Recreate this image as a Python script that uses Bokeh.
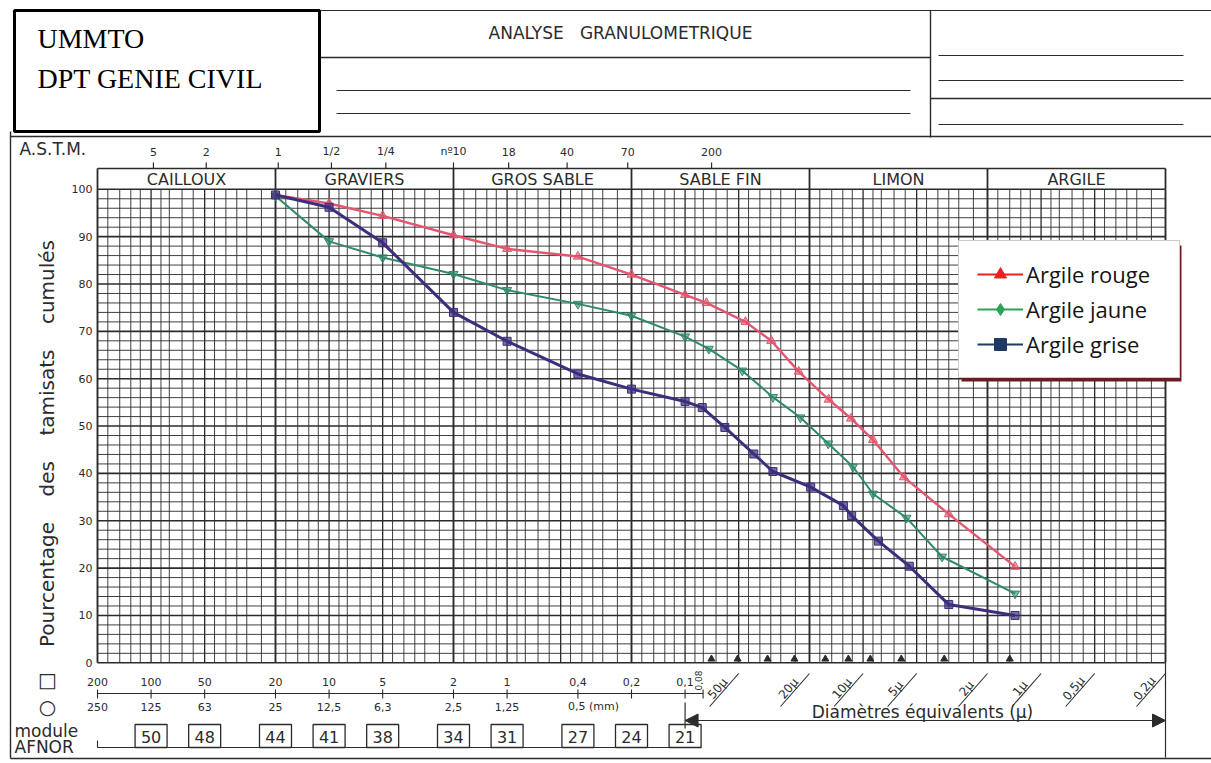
import math
from bokeh.plotting import figure
from bokeh.models import Range1d, Legend, LegendItem, Arrow, NormalHead
from bokeh.core.properties import value
from bokeh.embed import file_html
from bokeh.resources import INLINE

# ---------------- data (diameter in mm, cumulative passing in %) ----------------
rouge_d = [20, 10, 5, 2, 1, 0.4, 0.2, 0.1, 0.0758, 0.0458, 0.0328, 0.0230, 0.0156,
           0.0117, 0.0088, 0.0059, 0.0033, 0.0014]
rouge_p = [98.8, 97.0, 94.4, 90.3, 87.4, 85.8, 82.0, 77.7, 76.0, 72.0, 68.0, 61.5, 55.6,
           51.6, 47.1, 39.2, 31.4, 20.3]

jaune_d = [20, 10, 5, 2, 1, 0.4, 0.2, 0.1, 0.0735, 0.0477, 0.0321, 0.0225, 0.0157,
           0.0114, 0.0088, 0.0057, 0.0036, 0.0014]
jaune_p = [98.6, 89.0, 85.6, 82.1, 78.7, 75.8, 73.3, 68.9, 66.3, 61.7, 56.1, 51.8, 46.3,
           41.4, 35.7, 30.6, 22.4, 14.6]

grise_d = [20, 10, 5, 2, 1, 0.4, 0.2, 0.1, 0.0801, 0.0598, 0.0411, 0.0321, 0.0197,
           0.0129, 0.0116, 0.0082, 0.0055, 0.0033, 0.0014]
grise_p = [98.8, 96.2, 88.7, 74.0, 67.9, 61.0, 57.8, 55.2, 53.9, 49.7, 44.1, 40.4, 37.1,
           33.2, 31.1, 25.7, 20.4, 12.3, 10.0]

series_names = ["Argile rouge", "Argile jaune", "Argile grise"]

y_ticks = [0, 10, 20, 30, 40, 50, 60, 70, 80, 90, 100]
sq_d = [200, 100, 50, 20, 10, 5, 2, 1, 0.4, 0.2, 0.1]
sq_labels = ["200", "100", "50", "20", "10", "5", "2", "1", "0,4", "0,2", "0,1"]
rd_d = [200, 100, 50, 20, 10, 5, 2, 1]
rd_labels = ["250", "125", "63", "25", "12,5", "6,3", "2,5", "1,25"]
afnor_d = [100, 50, 20, 10, 5, 2, 1, 0.4, 0.2, 0.1]
afnor_labels = ["50", "48", "44", "41", "38", "34", "31", "27", "24", "21"]
astm_d = [97, 49, 19.3, 9.7, 4.8, 2.0, 0.98, 0.46, 0.21, 0.071]
astm_labels = ["5", "2", "1", "1/2", "1/4", "nº10", "18", "40", "70", "200"]
class_labels = ["CAILLOUX", "GRAVIERS", "GROS SABLE", "SABLE FIN", "LIMON", "ARGILE"]
class_bounds = [200, 20, 2, 0.2, 0.02, 0.002, 0.0002]
micron_d = [0.05, 0.02, 0.01, 0.005, 0.002, 0.001, 0.0005, 0.0002]
micron_labels = ["50µ", "20µ", "10µ", "5µ", "2µ", "1µ", "0,5µ", "0,2µ"]
sedim_d = [0.0711, 0.0507, 0.0344, 0.0243, 0.0163, 0.0121, 0.0091, 0.0061, 0.0035, 0.0015]
grid_mant = [1, 1.15, 1.3, 1.5, 1.75, 2, 2.4, 2.9, 3.3, 3.8, 4.4, 5, 5.8, 6.7, 7.9, 8.8]

# ---------------- layout (page pixels) ----------------
W, H, OFF = 1211, 763, 0
PX0, PXD = 97.0, 178.0       # page x of 200 mm, pixels per decade
PY0, PYU = 662.3, 4.735      # page y of 0 %, pixels per %


def X(px):
    return 200.0 / 10 ** ((px - PX0) / PXD)


def Y(py):
    return (PY0 - py) / PYU


def PXof(d):
    return PX0 + PXD * math.log10(200.0 / d)


def XD(d, dx):
    return X(PXof(d) + dx)


DMAX, DMIN = 200.0, 0.0002
INK = "#2b2b2b"
FONT = value("DejaVu Sans")
NB = "\u00a0" * 4

p = figure(width=W, height=H, x_axis_type="log",
           x_range=Range1d(X(OFF), X(OFF + W)), y_range=Range1d(Y(OFF + H), Y(OFF)),
           x_axis_location=None, y_axis_location=None, toolbar_location=None,
           output_backend="svg", min_border=0, outline_line_color=None,
           background_fill_color="white", border_fill_color="white")
p.xgrid.visible = False
p.ygrid.visible = False

# ---------------- grid ----------------
vx, vw = [], []
for e in range(-4, 3):
    for m in grid_mant:
        v = m * 10 ** e
        if DMIN * 0.999 <= v <= DMAX * 1.001:
            vx.append(v)
            vw.append(1.9 if m == 2 else (1.3 if m in (1, 5) else 0.9))
p.segment(x0=vx, y0=[0] * len(vx), x1=vx, y1=[100] * len(vx), line_color=INK, line_width=vw)
hy = list(range(0, 101, 2))
hw = [1.6 if v % 10 == 0 else 0.9 for v in hy]
p.segment(x0=[DMAX] * len(hy), y0=hy, x1=[DMIN] * len(hy), y1=hy, line_color=INK, line_width=hw)

# header band with soil classes
p.segment(x0=class_bounds, y0=[100] * 7, x1=class_bounds, y1=[Y(168)] * 7, line_color=INK, line_width=1.8)
p.segment(x0=[DMAX], y0=[Y(168)], x1=[DMIN], y1=[Y(168)], line_color=INK, line_width=1.6)
mids = [math.sqrt(class_bounds[i] * class_bounds[i + 1]) for i in range(6)]
p.text(x=mids, y=[Y(179)] * 6, text=class_labels, text_font=FONT, text_font_size="16px",
       text_align="center", text_baseline="middle", text_color=INK)

# ASTM row
p.text(x=[X(19)], y=[Y(148)], text=["A.S.T.M."], text_font=FONT, text_font_size="17px",
       text_align="left", text_baseline="middle", text_color=INK)
p.text(x=astm_d, y=[Y(151)] * len(astm_d), text=astm_labels, text_font=FONT, text_font_size="11px",
       text_align="center", text_baseline="middle", text_color=INK)
p.segment(x0=astm_d, y0=[Y(162)] * len(astm_d), x1=astm_d, y1=[Y(168)] * len(astm_d),
          line_color=INK, line_width=1.2)

# y labels and title
p.text(x=[X(92)] * len(y_ticks), y=y_ticks, text=[str(v) for v in y_ticks], text_font=FONT,
       text_font_size="11px", text_align="right", text_baseline="middle", text_color=INK)
p.text(x=[X(46)], y=[Y(443)], text=["Pourcentage" + NB + "des" + NB + "tamisats" + NB + "cumulés"],
       angle=math.pi / 2, text_font=FONT, text_font_size="20px", text_align="center",
       text_baseline="middle", text_color=INK)

# sedimentation marks on the 0 line
p.scatter(x=sedim_d, y=[0.8] * len(sedim_d), marker="triangle", size=7, fill_color=INK, line_color=INK)

# ---------------- bottom scales ----------------
p.text(x=[X(47), X(47)], y=[Y(679), Y(706)], text=["□", "○"], text_font=FONT, text_font_size="20px",
       text_align="center", text_baseline="middle", text_color=INK)
p.text(x=sq_d, y=[Y(681)] * len(sq_d), text=sq_labels, text_font=FONT, text_font_size="11px",
       text_align="center", text_baseline="middle", text_color=INK)
p.text(x=[XD(0.1, 13)], y=[Y(680)], text=["0,08"], angle=math.pi / 2, text_font=FONT,
       text_font_size="9px", text_align="center", text_baseline="middle", text_color=INK)
p.segment(x0=[DMAX], y0=[Y(693)], x1=[XD(0.1, 18)], y1=[Y(693)], line_color=INK, line_width=1.1)
p.segment(x0=sq_d + [XD(0.1, 18)], y0=[Y(689)] * 12, x1=sq_d + [XD(0.1, 18)], y1=[Y(698)] * 12,
          line_color=INK, line_width=1.1)
p.text(x=rd_d, y=[Y(706)] * len(rd_d), text=rd_labels, text_font=FONT, text_font_size="11px",
       text_align="center", text_baseline="middle", text_color=INK)
p.text(x=[XD(0.4, -10)], y=[Y(706)], text=["0,5 (mm)"], text_font=FONT, text_font_size="11px",
       text_align="left", text_baseline="middle", text_color=INK)

# AFNOR modules
p.text(x=[X(14), X(14)], y=[Y(730), Y(746)], text=["module", "AFNOR"], text_font=FONT,
       text_font_size="17px", text_align="left", text_baseline="middle", text_color=INK)
p.segment(x0=[DMAX, DMAX], y0=[Y(747), Y(740)], x1=[XD(0.1, 16), DMAX], y1=[Y(747), Y(747)],
          line_color=INK, line_width=1.1)
p.rect(x=afnor_d, y=[Y(735.5)] * len(afnor_d), width=32, height=23, width_units="screen",
       height_units="screen", fill_color="white", line_color=INK, line_width=1.3)
p.text(x=afnor_d, y=[Y(736)] * len(afnor_d), text=afnor_labels, text_font=FONT, text_font_size="16px",
       text_align="center", text_baseline="middle", text_color=INK)

# equivalent diameters (microns)
p.segment(x0=micron_d, y0=[Y(673)] * 8, x1=[XD(d, -29) for d in micron_d], y1=[Y(706)] * 8,
          line_color=INK, line_width=1.1)
p.text(x=[XD(d, -21) for d in micron_d], y=[Y(688)] * 8, text=micron_labels, angle=50 * math.pi / 180,
       text_font=FONT, text_font_size="12px", text_align="center", text_baseline="middle", text_color=INK)
p.text(x=[X(922)], y=[Y(711)], text=["Diamètres équivalents (µ)"], text_font=FONT, text_font_size="17px",
       text_align="center", text_baseline="middle", text_color=INK)
p.add_layout(Arrow(x_start=0.1, y_start=Y(720), x_end=DMIN, y_end=Y(720), line_color=INK, line_width=1.2,
                   start=NormalHead(size=13, fill_color=INK, line_color=INK),
                   end=NormalHead(size=13, fill_color=INK, line_color=INK)))
p.segment(x0=[0.1, DMIN], y0=[Y(702), 0], x1=[0.1, DMIN], y1=[Y(728), Y(757)], line_color=INK, line_width=1.2)

# ---------------- form frame & title block ----------------
fx0, fx1 = X(10), X(1211)
p.segment(x0=[X(320), fx0, X(10), fx0, X(930), X(320), X(336), X(336), X(938), X(938), X(930), X(938)],
          y0=[Y(10), Y(136), Y(131), Y(758), Y(10), Y(57), Y(90), Y(113), Y(55), Y(80), Y(98), Y(124)],
          x1=[fx1, fx1, X(10), fx1, X(930), X(930), X(910), X(910), X(1183), X(1183), fx1, X(1183)],
          y1=[Y(10), Y(136), Y(758), Y(758), Y(137), Y(57), Y(90), Y(113), Y(55), Y(80), Y(98), Y(124)],
          line_color=INK, line_width=[1.2, 1.6, 1.4, 1.4, 1.4, 1.4, 1, 1, 1, 1, 1.3, 1])
p.quad(left=[X(14)], right=[X(319)], top=[Y(10)], bottom=[Y(131)], fill_color="white",
       line_color="black", line_width=3)
p.text(x=[X(37), X(37)], y=[Y(38), Y(78)], text=["UMMTO", "DPT GENIE CIVIL"],
       text_font=value("Liberation Serif"), text_font_size="28px", text_align="left",
       text_baseline="middle", text_color="black")
p.text(x=[X(620)], y=[Y(32)], text=["ANALYSE\u00a0\u00a0\u00a0GRANULOMETRIQUE"], text_font=FONT,
       text_font_size="17px", text_align="center", text_baseline="middle", text_color=INK)

# ---------------- data curves ----------------
c_r, c_j, c_g = "#e4566f", "#2f8a68", "#3d2d7c"
p.line(rouge_d, rouge_p, line_color=c_r, line_width=2.4)
p.scatter(rouge_d, rouge_p, marker="triangle", size=9, fill_color=c_r, fill_alpha=0.6, line_color=c_r)
p.line(jaune_d, jaune_p, line_color=c_j, line_width=2.0)
p.scatter(jaune_d, jaune_p, marker="inverted_triangle", size=9, fill_color=c_j, fill_alpha=0.6, line_color=c_j)
p.line(grise_d, grise_p, line_color=c_g, line_width=3.0)
p.scatter(grise_d, grise_p, marker="square", size=8, fill_color=c_g, fill_alpha=0.7, line_color=c_g)

# ---------------- legend (legend-style glyphs on hidden renderers) ----------------
# dark red drop shadow behind the legend box
p.quad(left=[X(961)], right=[X(1181)], top=[Y(245)], bottom=[Y(381)], fill_color="#6e1a22",
       line_color=None)
leg_cols = ["#e8231f", "#2ba35a", "#1f3864"]
leg_marks = ["triangle", "diamond", "square"]
leg_data = [(rouge_d, rouge_p), (jaune_d, jaune_p), (grise_d, grise_p)]
items = []
for name, col, mk, (dd, pp) in zip(series_names, leg_cols, leg_marks, leg_data):
    lr = p.line(dd, pp, line_color=col, line_width=2.2, visible=False)
    sr = p.scatter(dd, pp, marker=mk, size=11, fill_color=col, line_color=col, visible=False)
    items.append(LegendItem(label=name, renderers=[lr, sr]))
legend = Legend(items=items, location=(958, 385), label_text_font="Open Sans", label_text_font_size="22px",
                label_text_color="#141414", padding=18, spacing=5, label_height=30, glyph_height=30,
                glyph_width=46, label_standoff=3, label_width=135, border_line_color="#9a9a9a",
                border_line_width=1, background_fill_color="white", background_fill_alpha=1.0,
                click_policy="none")
p.add_layout(legend)

open("out.html", "w").write(file_html(p, INLINE))
